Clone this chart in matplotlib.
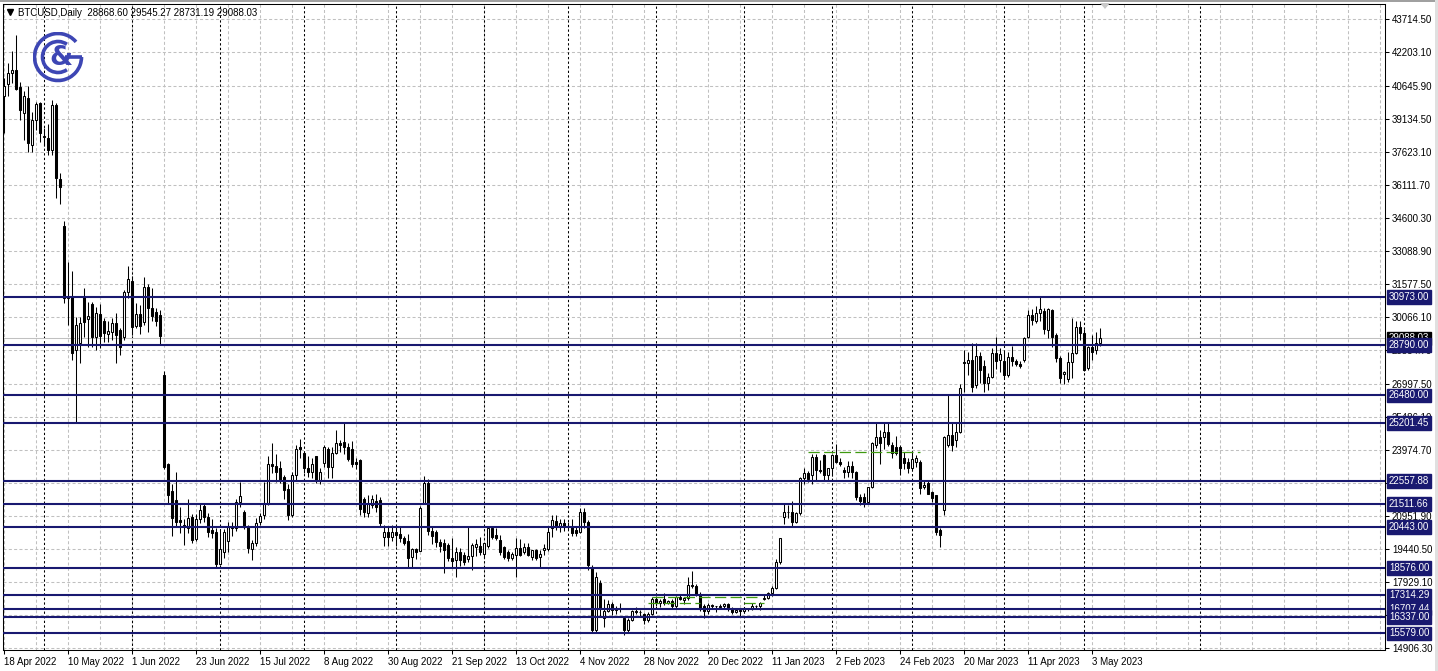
import numpy as np
import pandas as pd
import matplotlib
matplotlib.use("Agg")
import matplotlib.pyplot as plt
import matplotlib.transforms as mtransforms
from matplotlib.patches import Arc, Polygon, Rectangle

plt.rcParams["font.family"] = ["Liberation Sans", "DejaVu Sans"]

# daily bars (weekdays only), 18 Apr 2022 .. 5 May 2023
dates = pd.bdate_range("2022-04-18", "2023-05-05")

opens = [
    40170, 40740, 41230, 41380, 40580,  39420, 40080, 37950, 39090, 39880,
    38290, 38250, 37710, 39770, 36370,  34230, 30920, 30980, 28560, 28870,
    31000, 29990, 30660, 29170, 30200,  29880, 29290, 29400, 29780, 29470,
    29140, 31230, 31730, 29650, 30200,  29850, 31460, 30500, 30300, 30150,
    27410, 23330, 22100, 21680, 20780,  20530, 20390, 20900, 19880, 20800,
    21410, 20920, 20310, 20220, 18750,  19300, 19800, 20480, 20390, 21610,
    21150, 20460, 19430, 19700, 20690,  20980, 21500, 23330, 23240, 23140,
    22750, 22170, 20990, 22830, 24100,  23820, 23140, 22980, 23680, 22600,
    23370, 24010, 23210, 23820, 24300,  24360, 24100, 24000, 23440, 23520,
    21720, 21100, 21460, 21640, 21680,  20000, 20230, 19980, 20230, 20130,
    19930, 19820, 19060, 19430, 19370,  21540, 22480, 20280, 20230, 19750,
    19730, 19620, 19030, 18940, 19320,  19160, 19000, 19100, 19530, 19580,
    19210, 19580, 20390, 20070, 19850,  19550, 19320, 19050, 19160, 19470,
    19320, 19550, 19090, 19390, 19060,  19390, 19430, 20390, 20740, 20430,
    20630, 20500, 20460, 20310, 20230,  21150, 20690, 18630, 15730, 17900,
    16300, 16600, 16900, 16650, 16700,  16280, 15750, 16200, 16580, 16570,
    16480, 16200, 16450, 17150, 16950,  17150, 16950, 17080, 16830, 17220,
    17100, 17200, 17800, 17750, 17380,  16830, 16600, 16880, 16820, 16820,
    16840, 16900, 16700, 16540, 16630,  16610, 16680, 16670, 16850, 16830,
    17130, 17180, 17440, 17640, 18850,  20920, 21150, 21130, 20670, 21080,
    22700, 22930, 22830, 23660, 23080,  23750, 22830, 23130, 23730, 23430,
    23050, 22950, 23260, 22960, 21800,  21800, 21600, 22280, 24200, 24580,
    24560, 24800, 24200, 24130, 24130,  23600, 23440, 23140, 23440, 23440,
    22300, 22450, 22070, 21900, 20310,  21230, 24200, 24660, 24430, 24810,
    28020, 27970, 28100, 26950, 28280,  27800, 27040, 27310, 28400, 28100,
    28060, 27400, 28220, 28050, 27900,  28100, 29170, 30150, 29900, 30240,
    30360, 29470, 30390, 29240, 28170,  27450, 27220, 28020, 28400, 29630,
    29320, 27720, 28680, 28560, 28868.60,
]
highs = [
    41010, 41700, 42250, 42980, 40840,  40400, 40630, 39470, 39930, 39930,
    38700, 38890, 40000, 39880, 36680,  34460, 32580, 32190, 30080, 30050,
    31380, 30770, 30770, 30540, 30650,  30040, 29900, 30040, 30240, 29550,
    31300, 32380, 31940, 30700, 30600,  31900, 31600, 31400, 30500, 30400,
    27600, 23400, 22420, 22980, 21380,  20800, 21720, 21040, 21050, 21500,
    21500, 21080, 20800, 20390, 20300,  20350, 20700, 20700, 21730, 22520,
    21240, 20540, 19850, 20880, 21080,  22520, 23700, 24280, 23800, 23450,
    22850, 22400, 22950, 24200, 24460,  23900, 23680, 23600, 23700, 23150,
    24200, 24100, 24100, 24900, 24450,  25230, 24300, 24400, 23600, 23550,
    21800, 21900, 21900, 21950, 21800,  20520, 20470, 20550, 20500, 20450,
    20050, 20150, 19480, 19500, 21400,  22800, 22650, 20500, 20300, 19900,
    19900, 19700, 19940, 19550, 19500,  19300, 20460, 19700, 19900, 20010,
    19720, 20460, 20460, 20400, 20080,  19600, 19390, 19300, 19930, 19900,
    19700, 19700, 19400, 19450, 19390,  19650, 20500, 21000, 21000, 20800,
    20830, 20700, 20800, 20500, 21300,  21300, 20750, 18700, 18400, 18000,
    17150, 17100, 17000, 16850, 16950,  16300, 16300, 16650, 16800, 16650,
    16500, 16550, 17230, 17300, 17150,  17420, 17120, 17130, 17300, 17350,
    17250, 18150, 18430, 17850, 17450,  16900, 16950, 16900, 16850, 16900,
    16950, 16950, 16780, 16650, 16650,  16780, 16750, 16980, 16880, 17000,
    17380, 17480, 17750, 19000, 19950,  21550, 21450, 21650, 21150, 22750,
    23150, 23000, 23800, 23800, 23500,  23800, 23150, 23800, 24250, 23600,
    23200, 23450, 23450, 23000, 21950,  22000, 22300, 24350, 25250, 24900,
    25250, 25250, 24350, 24600, 24200,  23900, 23600, 23900, 23750, 23500,
    22550, 22550, 22100, 21900, 20400,  24600, 26500, 25200, 25200, 27000,
    28550, 28450, 28860, 28880, 28450,  28100, 27500, 28650, 29170, 28650,
    28500, 28450, 28750, 28150, 28050,  29150, 30400, 30450, 30550, 31030,
    30500, 30500, 30450, 29350, 28300,  27600, 28450, 30000, 29900, 29900,
    29500, 28750, 29250, 29400, 29545.27,
]
lows = [
    38490, 40170, 40800, 40460, 39090,  38170, 37640, 37640, 38630, 38100,
    37900, 37480, 37480, 35500, 35230,  30710, 29700, 28100, 25270, 27950,
    29170, 28710, 28710, 28560, 28650,  28900, 28900, 29030, 27950, 28330,
    29000, 30950, 29240, 29550, 29300,  29700, 29400, 29900, 29650, 28830,
    23100, 21500, 20040, 20460, 20160,  19620, 20160, 19700, 19800, 20630,
    20690, 20000, 19950, 18600, 18700,  19050, 19300, 20050, 20260, 21380,
    20360, 19240, 18940, 19560, 20560,  20800, 21450, 22900, 22500, 22460,
    21750, 20770, 20900, 22600, 23600,  22900, 22750, 22700, 22450, 22430,
    23200, 22700, 22700, 23800, 23900,  23800, 23450, 23200, 23100, 21000,
    20900, 20900, 21300, 21150, 20450,  19580, 19560, 19800, 19600, 19750,
    19620, 18600, 18600, 19000, 19350,  21500, 20100, 19650, 19550, 19320,
    18330, 18900, 18620, 18170, 18650,  18700, 18850, 18480, 19100, 19150,
    19050, 19500, 19900, 19850, 19160,  19000, 18880, 18950, 18170, 19100,
    19200, 19100, 18950, 18950, 18630,  19150, 19350, 19980, 20290, 20200,
    20250, 20350, 20050, 20050, 20180,  20400, 18500, 15580, 15650, 16350,
    15850, 16550, 16400, 16450, 16550,  15500, 15600, 16150, 16450, 16380,
    16000, 16100, 16400, 16850, 16800,  16880, 16900, 16700, 16750, 17100,
    16900, 17100, 17650, 17300, 16600,  16300, 16450, 16700, 16550, 16750,
    16750, 16600, 16450, 16500, 16350,  16560, 16600, 16650, 16750, 16650,
    17100, 17150, 17300, 17600, 18750,  20600, 20850, 20450, 20650, 21000,
    22400, 22500, 22400, 22600, 22900,  22600, 22550, 22800, 23400, 23250,
    22700, 22750, 22700, 21700, 21450,  21350, 21500, 22250, 24050, 23350,
    24000, 24150, 23600, 23750, 22850,  23100, 22900, 23050, 23200, 21950,
    22200, 21950, 21600, 20100, 19550,  21000, 24100, 23950, 24100, 24750,
    26650, 27400, 26650, 26800, 27050,  26650, 26700, 27250, 27700, 27550,
    27250, 27300, 27800, 27800, 27750,  28000, 29100, 29700, 29800, 29900,
    29300, 29100, 28700, 28000, 27050,  27000, 27100, 27270, 28350, 29000,
    27600, 27650, 28100, 28350, 28731.19,
]
closes = [
    40630, 41230, 41380, 40500, 39550,  40170, 38050, 39090, 39820, 38510,
    38350, 37710, 39770, 36420, 36010,  30920, 30980, 28400, 29700, 29780,
    29850, 30110, 29170, 30240, 29200,  29320, 29440, 29780, 29250, 28710,
    31230, 31790, 29620, 30200, 29650,  31460, 30500, 30100, 29900, 29200,
    23200, 21910, 20850, 20690, 20690,  20480, 20850, 19850, 20800, 21230,
    20920, 20230, 20190, 18750, 19430,  20200, 20460, 20400, 21610, 21870,
    20460, 19470, 19700, 20650, 20950,  21530, 23330, 23240, 22950, 22600,
    22140, 20990, 22830, 24010, 24010,  23140, 22980, 23330, 22600, 22980,
    24100, 23210, 23820, 24300, 24200,  24100, 23560, 23350, 23330, 21260,
    21150, 21560, 21720, 21370, 20610,  20230, 19980, 20230, 20080, 19960,
    19700, 19010, 19430, 19310, 21310,  22450, 20280, 20050, 19750, 19600,
    19390, 19030, 18900, 19320, 18940,  18860, 19100, 19620, 19670, 19320,
    19700, 20390, 20010, 19930, 19320,  19090, 19050, 19210, 19470, 19180,
    19550, 19180, 19390, 19050, 19210,  19470, 20240, 20770, 20430, 20630,
    20500, 20480, 20160, 20160, 21150,  20690, 18700, 15730, 18150, 16700,
    16600, 16900, 16650, 16700, 16750,  15750, 16200, 16580, 16570, 16550,
    16200, 16450, 17150, 16950, 17080,  16950, 17080, 16830, 17220, 17130,
    17200, 17800, 17750, 17380, 16700,  16600, 16880, 16820, 16820, 16780,
    16900, 16700, 16540, 16630, 16600,  16680, 16670, 16850, 16830, 16950,
    17180, 17440, 17640, 18850, 19930,  21150, 21130, 20670, 21080, 22670,
    22930, 22630, 23660, 23060, 23000,  22830, 23130, 23730, 23430, 23330,
    22950, 23260, 22960, 21800, 21630,  21550, 22280, 24300, 24580, 24300,
    24800, 24250, 23820, 23820, 23140,  23370, 23140, 23560, 23600, 22220,
    22380, 21980, 21760, 20230, 20080,  24580, 24660, 24200, 24810, 26800,
    27970, 28100, 26880, 28280, 27640,  27040, 27310, 28400, 28030, 28370,
    27400, 28220, 28050, 27900, 27800,  29090, 30150, 29930, 30260, 30420,
    29510, 30420, 29170, 28170, 27270,  27560, 28020, 28400, 29600, 29320,
    27640, 28680, 28480, 28860, 29088.03,
]

# horizontal levels drawn on the chart
levels = [30973.00, 28790.00, 26480.00, 25201.45, 22557.88, 21511.66,
          20443.00, 18576.00, 17314.29, 16707.44, 16337.00, 15579.00]
bid_price = 29088.03

# price scale labels
scale_prices = [43714.50, 42203.10, 40645.90, 39134.50, 37623.10, 36111.70,
                34600.30, 33088.90, 31577.50, 30066.10, 28554.70, 26997.50,
                25486.10, 23974.70, 22463.30, 20951.90, 19440.50, 17929.10,
                16417.70, 14906.30]

# short green dashed lines (price, first bar, last bar)
green_lines = [(23870, 201, 229), (17260, 162, 189),
               (16990, 161, 174), (16990, 185, 190)]
future_separator_bar = 299

header = "BTCUSD,Daily  28868.60 29545.27 28731.19 29088.03"

NAVY = "#191970"
GRID = "#c0c0c0"

W, H = 1438, 671
fig = plt.figure(figsize=(W / 100, H / 100), dpi=100)
fig.patch.set_facecolor("white")
ax = fig.add_axes([3 / W, 21 / H, 1382 / W, 646 / H])
ax.set_facecolor("white")
ax.set_xlim(-0.25, 345.25)
ax.set_ylim(14814.7, 44401.5)

x = np.arange(len(dates))
o = np.array(opens)
h = np.array(highs)
l = np.array(lows)
c = np.array(closes)

# grid
for gx in range(0, 346, 8):
    ax.axvline(gx, color=GRID, lw=0.75, dashes=(2.9, 2.2), zorder=0)
for gp in scale_prices:
    ax.axhline(gp, color=GRID, lw=0.75, dashes=(2.9, 2.2), zorder=0)

# month separators
month_start = [i for i in range(1, len(dates)) if dates[i].month != dates[i - 1].month]
for ms in month_start + [future_separator_bar]:
    ax.axvline(ms, color="black", lw=0.75, dashes=(2.2, 2.2), zorder=1)

# bid line
ax.axhline(bid_price, color=GRID, lw=0.75, zorder=1)

# candles
ax.vlines(x, l, h, color="black", lw=0.75, zorder=3)
up = c >= o
ax.bar(x[up], (c - o)[up], bottom=o[up], width=0.5, color="white",
       edgecolor="black", linewidth=0.75, zorder=4)
ax.bar(x[~up], (o - c)[~up], bottom=c[~up], width=0.5, color="black",
       edgecolor="black", linewidth=0.75, zorder=4)

# levels
for lv in levels:
    ax.axhline(lv, color=NAVY, lw=1.5, zorder=5)
for price, b0, b1 in green_lines:
    ax.plot([b0, b1], [price, price], color="#3f9a10", lw=0.9,
            dashes=(9, 3.5), zorder=5)

# axes look
for s in ax.spines.values():
    s.set_color("black")
    s.set_linewidth(0.75)
ax.yaxis.tick_right()
ax.set_yticks(scale_prices)
ax.set_yticklabels([f"{p:.2f}" for p in scale_prices])
ax.tick_params(axis="y", direction="out", length=3, width=0.75, pad=2,
               labelsize=7, colors="black")
ticks = x[::16]
ax.set_xticks(ticks)
ax.set_xticklabels([f"{d.day} {d:%b %Y}" for d in dates[::16]])
ax.tick_params(axis="x", direction="out", length=3, width=0.75, pad=2,
               labelsize=7, colors="black")
for t in ax.get_xticklabels():
    t.set_ha("left")

trans = mtransforms.blended_transform_factory(ax.transAxes, ax.transData)
lx = 1 + 4 / 1382
ax.text(lx, bid_price, f"{bid_price:.2f}", transform=trans, fontsize=7,
        color="white", va="center", ha="left", clip_on=False, zorder=6,
        bbox=dict(boxstyle="square,pad=0.18", fc="black", ec="black"))
for lv in levels:
    ax.text(lx, lv, f"{lv:.2f}", transform=trans, fontsize=7, color="white",
            va="center", ha="left", clip_on=False, zorder=7,
            bbox=dict(boxstyle="square,pad=0.18", fc=NAVY, ec=NAVY))

# header
fig.text(18 / W, 1 - 13 / H, header, fontsize=7, va="center", ha="left")
fig.lines.append(plt.Line2D([10 / W], [1 - 12 / H], marker="v", ms=4.5,
                            color="black", transform=fig.transFigure))
# window frame bits
fig.patches.append(Rectangle((0, 1 - 2 / H), 1, 2 / H, transform=fig.transFigure,
                             fc="#a0a0a0", ec="none"))
fig.patches.append(Rectangle((1 - 3 / W, 0), 3 / W, 1, transform=fig.transFigure,
                             fc="#e0e0e0", ec="none"))
fig.patches.append(Polygon([[1100 / W, 1 - 3 / H], [1110 / W, 1 - 3 / H],
                            [1105 / W, 1 - 9 / H]], closed=True,
                           transform=fig.transFigure, fc="#c8c8c8", ec="none"))

# logo
LOGO = "#3d46b4"
lg = fig.add_axes([33 / W, 1 - 84 / H, 52 / W, 52 / H])
lg.set_xlim(0, 52)
lg.set_ylim(0, 52)
lg.axis("off")
lg.add_patch(Arc((25, 27), 47, 47, theta1=40, theta2=360, lw=2.6, color=LOGO))
lg.add_patch(Arc((25, 27), 31, 31, theta1=55, theta2=305, lw=2.6, color=LOGO))
lg.plot([32, 48.5], [27, 27], color=LOGO, lw=2.6, solid_capstyle="butt")
lg.text(28, 26, "&", fontsize=19, fontweight="bold", color=LOGO,
        ha="center", va="center", family="DejaVu Sans")

fig.savefig("out.png", dpi=100)
